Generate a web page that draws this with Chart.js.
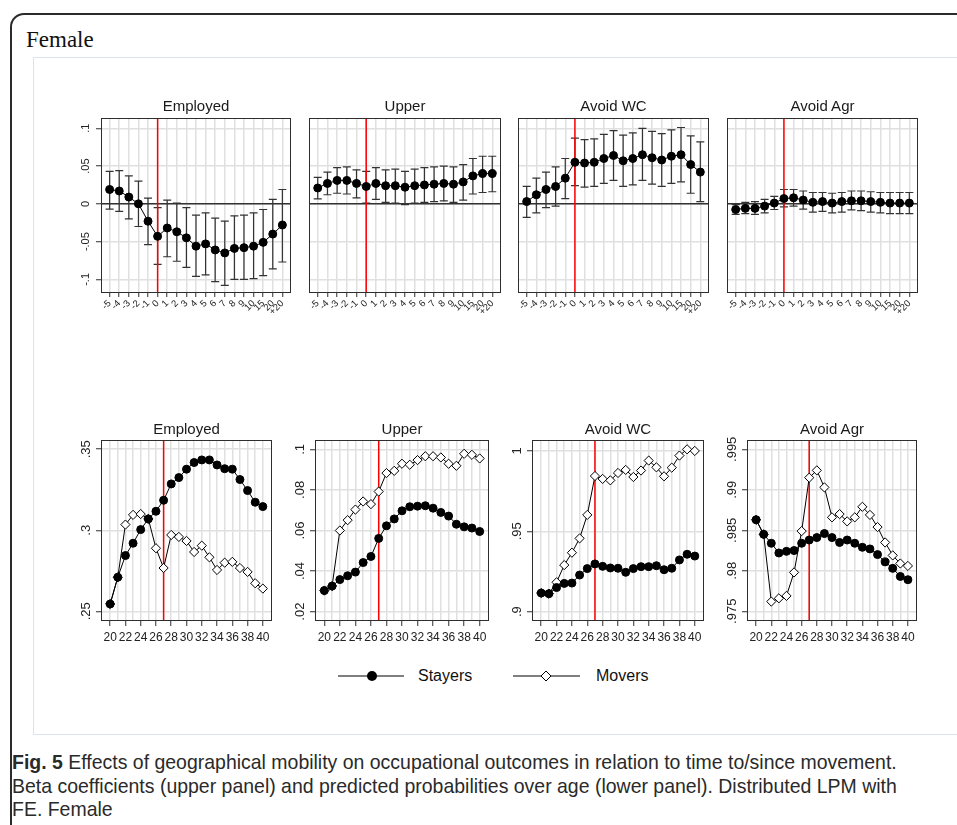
<!DOCTYPE html>
<html>
<head>
<meta charset="utf-8">
<script src="https://cdn.jsdelivr.net/npm/chart.js@4.4.1/dist/chart.umd.min.js"></script>
<style>
  html, body { margin: 0; padding: 0; background: #fff; }
  body { width: 957px; height: 825px; position: relative; overflow: hidden;
         font-family: "Liberation Sans", Arial, sans-serif; }
  #frame { position: absolute; left: 10px; top: 13px; width: 1000px; height: 900px;
           border: 2px solid #2b2b2b; border-radius: 14px; }
  #female { position: absolute; left: 26px; top: 28px; font: 23px/23px "Liberation Serif", "Times New Roman", serif; color: #111; }
  #inner { position: absolute; left: 33px; top: 57px; width: 1000px; height: 676px; border: 1px solid #dde4e8; }
  .ttl { position: absolute; text-align: center; font-size: 15px; line-height: 18px; color: #1a1a1a; }
  canvas { position: absolute; }
  .leg { position: absolute; top: 666px; font-size: 16px; line-height: 20px; color: #111; }
  #legsym { position: absolute; left: 330px; top: 666px; }
  #caption { position: absolute; left: 12px; top: 750px; font: 21px/23.5px "Liberation Sans", Arial, sans-serif;
             color: #2a2a2a; white-space: nowrap; transform: scaleX(0.927); transform-origin: 0 0; }
</style>
</head>
<body>
<div id="frame"></div>
<div id="female">Female</div>
<div id="inner"></div>

<svg id="legsym" width="260" height="20">
  <line x1="8" y1="10" x2="74" y2="10" stroke="#000" stroke-width="1.2"/>
  <circle cx="42" cy="10" r="5" fill="#000"/>
  <line x1="183" y1="10" x2="250" y2="10" stroke="#000" stroke-width="1.2"/>
  <polygon points="211,10 216,5 221,10 216,15" fill="#fff" stroke="#000" stroke-width="1"/>
</svg>
<div class="leg" style="left:418px">Stayers</div>
<div class="leg" style="left:596px">Movers</div>

<div id="caption"><b>Fig. 5</b> Effects of geographical mobility on occupational outcomes in relation to time to/since movement.<br>Beta coefficients (upper panel) and predicted probabilities over age (lower panel). Distributed LPM with<br>FE. Female</div>

<script>
// ---------------------- Data: upper panel (beta coefficients) ----------------------
const eventLabels = ['-5','-4','-3','-2','-1','0','1','2','3','4','5','6','7','8','9','10','15','20','+20'];
const panelTitles = ['Employed', 'Upper', 'Avoid WC', 'Avoid Agr'];

const employedCoef = [0.019, 0.017, 0.009, 0.000, -0.023, -0.043, -0.032, -0.037, -0.045, -0.056, -0.053, -0.061, -0.065, -0.059, -0.058, -0.056, -0.051, -0.040, -0.028];
const employedLo   = [-0.007, -0.010, -0.020, -0.030, -0.054, -0.080, -0.070, -0.076, -0.084, -0.096, -0.094, -0.103, -0.108, -0.100, -0.100, -0.099, -0.095, -0.086, -0.077];
const employedHi   = [0.043, 0.044, 0.037, 0.030, 0.0075, -0.005, 0.005, 0.001, -0.005, -0.015, -0.012, -0.019, -0.023, -0.016, -0.015, -0.012, -0.0075, 0.006, 0.019];

const upperCoef = [0.021, 0.027, 0.031, 0.031, 0.027, 0.023, 0.027, 0.024, 0.024, 0.022, 0.024, 0.025, 0.026, 0.027, 0.026, 0.029, 0.037, 0.040, 0.040];
const upperLo   = [0.0066, 0.012, 0.014, 0.013, 0.008, 0.001, 0.006, 0.002, 0.001, -0.001, 0.001, 0.002, 0.003, 0.004, 0.002, 0.005, 0.013, 0.015, 0.016];
const upperHi   = [0.035, 0.042, 0.048, 0.049, 0.045, 0.043, 0.048, 0.045, 0.046, 0.043, 0.046, 0.048, 0.049, 0.050, 0.049, 0.052, 0.060, 0.063, 0.063];

const wcCoef = [0.003, 0.012, 0.019, 0.023, 0.034, 0.055, 0.054, 0.055, 0.060, 0.064, 0.057, 0.060, 0.065, 0.061, 0.058, 0.063, 0.065, 0.052, 0.042];
const wcLo   = [-0.018, -0.012, -0.005, -0.003, 0.007, 0.024, 0.022, 0.023, 0.027, 0.031, 0.023, 0.025, 0.031, 0.026, 0.023, 0.027, 0.029, 0.014, 0.003];
const wcHi   = [0.023, 0.034, 0.042, 0.049, 0.060, 0.087, 0.085, 0.086, 0.092, 0.097, 0.091, 0.094, 0.100, 0.096, 0.093, 0.098, 0.101, 0.090, 0.082];

const agrCoef = [-0.0075, -0.006, -0.006, -0.003, 0.001, 0.007, 0.008, 0.005, 0.002, 0.003, 0.001, 0.003, 0.004, 0.004, 0.003, 0.002, 0.001, 0.001, 0.001];
const agrLo   = [-0.014, -0.013, -0.014, -0.012, -0.0075, -0.004, -0.003, -0.007, -0.011, -0.010, -0.012, -0.011, -0.008, -0.009, -0.011, -0.012, -0.013, -0.013, -0.013];
const agrHi   = [-0.001, 0.002, 0.003, 0.006, 0.010, 0.019, 0.019, 0.017, 0.015, 0.015, 0.014, 0.015, 0.017, 0.017, 0.016, 0.015, 0.015, 0.015, 0.015];

const betaTicks  = [-0.1, -0.05, 0, 0.05, 0.1];
const betaLabels = ['-.1', '-.05', '0', '.05', '.1'];

// ---------------------- Data: lower panel (predicted probabilities) ----------------------
const ages      = [20, 21, 22, 23, 24, 25, 26, 27, 28, 29, 30, 31, 32, 33, 34, 35, 36, 37, 38, 39, 40];
const ageLabels = ['20', '22', '24', '26', '28', '30', '32', '34', '36', '38', '40'];

const employedStayers = [0.2545, 0.271, 0.2844, 0.292, 0.3004, 0.307, 0.3117, 0.3185, 0.3286, 0.3325, 0.3377, 0.3418, 0.3434, 0.3434, 0.3403, 0.338, 0.3377, 0.3313, 0.3245, 0.3173, 0.3146];
const employedMovers  = [0.2545, 0.271, 0.3035, 0.3095, 0.310, 0.307, 0.2889, 0.2767, 0.2971, 0.2959, 0.2934, 0.2866, 0.2905, 0.2833, 0.2755, 0.280, 0.2805, 0.2767, 0.2743, 0.2673, 0.264];

const upperStayers = [0.0304, 0.0326, 0.0358, 0.0377, 0.0395, 0.0442, 0.0472, 0.0561, 0.0623, 0.0657, 0.0697, 0.0717, 0.0720, 0.0722, 0.0710, 0.0689, 0.0671, 0.0631, 0.0618, 0.0612, 0.0595];
const upperMovers  = [0.0304, 0.0326, 0.0600, 0.0651, 0.0703, 0.0743, 0.0730, 0.0792, 0.0883, 0.0894, 0.0929, 0.0924, 0.0947, 0.0966, 0.0966, 0.0960, 0.0929, 0.0919, 0.0978, 0.0973, 0.0955];

const wcStayers = [0.9116, 0.9112, 0.915, 0.9176, 0.9178, 0.9228, 0.9268, 0.9297, 0.9282, 0.9272, 0.927, 0.9245, 0.9268, 0.928, 0.928, 0.9286, 0.9261, 0.927, 0.9322, 0.9357, 0.9346];
const wcMovers  = [0.9116, 0.9112, 0.9183, 0.929, 0.9367, 0.9456, 0.9602, 0.9844, 0.9826, 0.9817, 0.9863, 0.9882, 0.9838, 0.9878, 0.994, 0.9898, 0.9842, 0.9896, 0.9971, 1.001, 1.000];

const agrStayers = [0.9863, 0.9845, 0.9834, 0.9822, 0.9824, 0.9825, 0.9834, 0.9838, 0.9841, 0.9846, 0.9841, 0.9835, 0.9838, 0.9834, 0.9829, 0.9827, 0.982, 0.9811, 0.9803, 0.9793, 0.9789];
const agrMovers  = [0.9863, 0.9845, 0.9762, 0.9766, 0.9769, 0.9798, 0.9849, 0.9915, 0.9924, 0.9903, 0.9866, 0.987, 0.9861, 0.9866, 0.9879, 0.9869, 0.9854, 0.9835, 0.9819, 0.9809, 0.9806];

const employedTicks = [0.25, 0.3, 0.35],              employedTickLabels = ['.25', '.3', '.35'];
const upperTicks    = [0.02, 0.04, 0.06, 0.08, 0.1],  upperTickLabels    = ['.02', '.04', '.06', '.08', '.1'];
const wcTicks       = [0.9, 0.95, 1],                 wcTickLabels       = ['.9', '.95', '1'];
const agrTicks      = [0.975, 0.98, 0.985, 0.99, 0.995], agrTickLabels   = ['.975', '.98', '.985', '.99', '.995'];

// ---------------------- Layout ----------------------
const PAD_T = 6, PAD_R = 6, Y_W = 30;
const GRID = '#e0e0e0';
const INK = '#2e2e2e';
const FONT = '"Liberation Sans", Arial, sans-serif';

// ---------------------- Decoration plugin ----------------------
const panelDeco = {
  id: 'panelDeco',
  beforeDatasetsDraw(chart, args, opts) {
    const { ctx, chartArea: a, scales: { x, y } } = chart;
    ctx.save();
    // error bars (under markers)
    chart.data.datasets.forEach(ds => {
      if (!ds.errLo) return;
      ctx.strokeStyle = '#333';
      ctx.lineWidth = 1.2;
      ds.errLo.forEach((lo, i) => {
        const px = x.getPixelForValue(ds.data[i].x);
        const p1 = y.getPixelForValue(lo);
        const p2 = y.getPixelForValue(ds.errHi[i]);
        ctx.beginPath();
        ctx.moveTo(px, p1); ctx.lineTo(px, p2);
        ctx.moveTo(px - 4, p1); ctx.lineTo(px + 4, p1);
        ctx.moveTo(px - 4, p2); ctx.lineTo(px + 4, p2);
        ctx.stroke();
      });
    });
    if (opts.zero) {
      const py = y.getPixelForValue(0);
      ctx.strokeStyle = '#333';
      ctx.lineWidth = 1.5;
      ctx.beginPath(); ctx.moveTo(a.left, py); ctx.lineTo(a.right, py); ctx.stroke();
    }
    if (opts.mark !== undefined) {
      const px = x.getPixelForValue(opts.mark);
      ctx.strokeStyle = '#ff0000';
      ctx.lineWidth = 1.5;
      ctx.beginPath(); ctx.moveTo(px, a.top); ctx.lineTo(px, a.bottom); ctx.stroke();
    }
    ctx.strokeStyle = INK;
    ctx.lineWidth = 1;
    ctx.strokeRect(a.left + 0.5, a.top + 0.5, a.right - a.left - 1, a.bottom - a.top - 1);
    ctx.restore();
  },
  afterDraw(chart, args, opts) {
    if (!opts.yTicks) return;
    const { ctx, chartArea: a, scales: { y } } = chart;
    ctx.save();
    ctx.fillStyle = '#222';
    ctx.font = opts.yFont + 'px ' + FONT;
    ctx.textAlign = 'center';
    ctx.textBaseline = 'middle';
    opts.yTicks.forEach((v, i) => {
      ctx.save();
      ctx.translate(a.left - opts.yDx, y.getPixelForValue(v));
      ctx.rotate(-Math.PI / 2);
      ctx.fillText(opts.yLabels[i], 0, 0);
      ctx.restore();
    });
    ctx.restore();
  },
};

function addTitle(text, left, right, cy) {
  const d = document.createElement('div');
  d.className = 'ttl';
  d.textContent = text;
  d.style.left = left + 'px';
  d.style.width = (right - left) + 'px';
  d.style.top = (cy - 9) + 'px';
  document.body.appendChild(d);
}

function makePanel(p) {
  const cv = document.createElement('canvas');
  cv.width = Y_W + (p.right - p.left) + PAD_R;
  cv.height = PAD_T + (p.bottom - p.top) + p.xH;
  cv.style.left = (p.left - Y_W) + 'px';
  cv.style.top = (p.top - PAD_T) + 'px';
  document.body.appendChild(cv);
  addTitle(p.title, p.left, p.right, p.titleY);

  return new Chart(cv, {
    type: 'line',
    data: { datasets: p.datasets },
    options: {
      responsive: false,
      animation: false,
      events: [],
      layout: { padding: { top: PAD_T, right: PAD_R, left: 0, bottom: 0 } },
      plugins: {
        legend: { display: false },
        tooltip: { enabled: false },
        panelDeco: { mark: p.mark, zero: p.zero, yTicks: p.yLabels ? p.yTicks : null,
                     yLabels: p.yLabels, yFont: p.yFont, yDx: p.yDx },
      },
      scales: {
        x: {
          type: 'linear',
          min: p.xMin, max: p.xMax,
          afterBuildTicks: s => { s.ticks = p.xTicks.map(v => ({ value: v })); },
          afterFit: s => { s.height = p.xH; s.paddingLeft = 0; s.paddingRight = 0; },
          border: { display: false },
          grid: { color: GRID, lineWidth: 1.5, tickLength: p.xTickLen, tickWidth: 1,
                  tickColor: c => (p.xLabel(c.tick.value) ? INK : 'rgba(0,0,0,0)') },
          ticks: {
            autoSkip: false,
            minRotation: p.xRot, maxRotation: p.xRot,
            padding: p.xPad,
            color: '#222',
            font: { family: FONT, size: p.xFont },
            callback: v => p.xLabel(v),
          },
        },
        y: {
          type: 'linear',
          min: p.yMin, max: p.yMax,
          afterBuildTicks: s => { s.ticks = p.yTicks.map(v => ({ value: v })); },
          afterFit: s => { s.width = Y_W; s.paddingTop = 0; s.paddingBottom = 0; },
          border: { display: false },
          grid: { color: GRID, lineWidth: 1.5, tickLength: p.yLabels ? 5 : 0, tickColor: INK, tickWidth: 1 },
          ticks: { display: false },
        },
      },
    },
    plugins: [panelDeco],
  });
}

const toXY = (xs, ys) => ys.map((v, i) => ({ x: xs[i], y: v }));
const eventIdx = eventLabels.map((_, i) => i);

function betaSet(coef, lo, hi) {
  return [{
    data: toXY(eventIdx, coef),
    errLo: lo, errHi: hi,
    borderColor: '#000', borderWidth: 1,
    pointRadius: 4, pointBorderWidth: 1,
    pointBackgroundColor: '#000', pointBorderColor: '#000',
    tension: 0,
  }];
}

function ageSets(stayers, movers) {
  return [
    { data: toXY(ages, stayers), borderColor: '#000', borderWidth: 1,
      pointStyle: 'circle', pointRadius: 4, pointBorderWidth: 1,
      pointBackgroundColor: '#000', pointBorderColor: '#000', tension: 0 },
    { data: toXY(ages, movers), borderColor: '#000', borderWidth: 1,
      pointStyle: 'rectRot', pointRadius: 4.6, pointBorderWidth: 1,
      pointBackgroundColor: '#fff', pointBorderColor: '#000', tension: 0 },
  ];
}

// ---------------------- Upper row ----------------------
const topBoxes = [[101, 291], [309, 501], [518, 709], [727, 918]];
const betaData = [
  [employedCoef, employedLo, employedHi],
  [upperCoef, upperLo, upperHi],
  [wcCoef, wcLo, wcHi],
  [agrCoef, agrLo, agrHi],
];
topBoxes.forEach(([l, r], k) => {
  makePanel({
    title: panelTitles[k], titleY: 106,
    left: l, right: r, top: 118, bottom: 293, xH: 34,
    xMin: -0.9, xMax: 18.9, xTicks: eventIdx,
    xLabel: v => eventLabels[v] || '', xRot: 45, xPad: 1, xFont: 9.5, xTickLen: 4,
    yMin: -0.118, yMax: 0.1136, yTicks: betaTicks,
    yLabels: k === 0 ? betaLabels : null, yFont: 11, yDx: 15,
    zero: true, mark: 5,
    datasets: betaSet(...betaData[k]),
  });
});

// ---------------------- Lower row ----------------------
const ageLabel = v => (ageLabels.includes(String(v)) ? String(v) : '');
const bottomPanels = [
  { l: 101, r: 272, yMin: 0.244,  yMax: 0.3557,  ticks: employedTicks, labels: employedTickLabels, s: employedStayers, m: employedMovers },
  { l: 315, r: 489, yMin: 0.0154, yMax: 0.1046,  ticks: upperTicks,    labels: upperTickLabels,    s: upperStayers,    m: upperMovers },
  { l: 532, r: 704, yMin: 0.8942, yMax: 1.0068,  ticks: wcTicks,       labels: wcTickLabels,       s: wcStayers,       m: wcMovers },
  { l: 747, r: 917, yMin: 0.9738, yMax: 0.99615, ticks: agrTicks,      labels: agrTickLabels,      s: agrStayers,      m: agrMovers },
];
bottomPanels.forEach((b, k) => {
  makePanel({
    title: panelTitles[k], titleY: 429,
    left: b.l, right: b.r, top: 440, bottom: 621, xH: 28,
    xMin: 18.8, xMax: 41.2, xTicks: ages,
    xLabel: ageLabel, xRot: 0, xPad: 4, xFont: 12, xTickLen: 5,
    yMin: b.yMin, yMax: b.yMax, yTicks: b.ticks,
    yLabels: b.labels, yFont: 13, yDx: 15,
    zero: false, mark: 27,
    datasets: ageSets(b.s, b.m),
  });
});
</script>
</body>
</html>
